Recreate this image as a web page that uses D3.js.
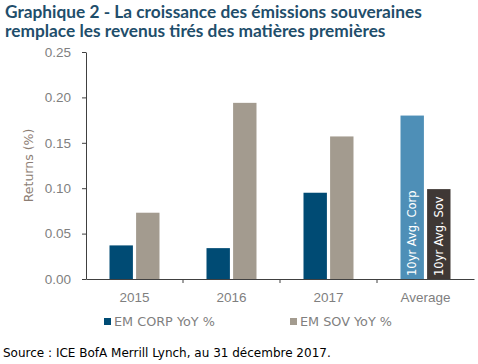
<!DOCTYPE html>
<html>
<head>
<meta charset="utf-8">
<script src="https://cdn.jsdelivr.net/npm/d3@7"></script>
<style>
  body { margin: 0; background: #fff; }
  svg { display: block; font-family: "DejaVu Sans", sans-serif; }
  .title { fill: #1f4e6b; font-family: Lato, sans-serif; font-weight: bold; font-size: 17.3px; }
  .axis text { fill: #7f7f7f; font-size: 13.5px; }
  .axis path, .axis line { stroke: #404040; }
  .axis-label { fill: #8c7d73; font-size: 12.5px; }
  .legend__item { fill: #7f7f7f; font-size: 12.8px; }
  .bar-label { fill: #fff; font-size: 11.5px; }
  .source { fill: #000; font-size: 12px; }
</style>
</head>
<body>
<svg class="chart"></svg>
<script>
const categories = ["2015", "2016", "2017", "Average"]
const corpValues = [0.037, 0.034, 0.095, 0.18]
const sovValues = [0.073, 0.194, 0.157, 0.099]
const yTicks = [0, 0.05, 0.10, 0.15, 0.20, 0.25]
const seriesNames = ["EM CORP YoY %", "EM SOV YoY %"]
const avgLabels = ["10yr Avg. Corp", "10yr Avg. Sov"]

var width = 478, height = 364
var margin = {top: 52, right: 4, bottom: 85, left: 86}

var colors = ["#004b74", "#a39b8f"]
var avgColors = ["#4e8fb7", "#3f3835"]

var svg = d3.select(".chart")
    .attr("width", width)
    .attr("height", height)

svg.append("text")
    .attr("class", "title")
    .attr("x", 5).attr("y", 18)
    .text("Graphique 2 - La croissance des émissions souveraines")

svg.append("text")
    .attr("class", "title")
    .attr("x", 5).attr("y", 37)
    .text("remplace les revenus tirés des matières premières")

var x = d3.scaleBand()
    .domain(categories)
    .range([margin.left, 474])

var y = d3.scaleLinear()
    .domain([0, 0.25])
    .range([279, margin.top])

var xInner = d3.scaleBand()
    .domain([0, 1])
    .range([x.bandwidth() / 2 - 25, x.bandwidth() / 2 + 25])
    .paddingInner(0.12)

svg.append("g")
    .attr("class", "axis")
    .attr("transform", "translate(" + margin.left + ",0)")
    .call(d3.axisLeft(y).tickValues(yTicks).tickFormat(d3.format(".2f")).tickSize(4).tickSizeOuter(0))
    .selectAll("text").attr("dx", "-0.6em")

svg.append("g")
    .attr("class", "axis")
    .attr("transform", "translate(0,279)")
    .call(d3.axisBottom(x).tickSize(0).tickSizeOuter(0))
    .call(g => g.selectAll("text").attr("dy", "1.45em"))

// ticks between categories
svg.append("g")
    .selectAll("line")
    .data(categories.slice(1))
    .enter().append("line")
    .attr("x1", d => x(d)).attr("x2", d => x(d))
    .attr("y1", 279).attr("y2", 283)
    .attr("stroke", "#404040")

svg.append("text")
    .attr("class", "axis-label")
    .attr("text-anchor", "middle")
    .attr("transform", "translate(33," + ((279 + margin.top) / 2) + ") rotate(-90)")
    .text("Returns (%)")

var groups = svg.selectAll("g.cat")
    .data(categories)
    .enter().append("g")
    .attr("class", "cat")
    .attr("transform", d => "translate(" + x(d) + ",0)")

groups.each(function(cat, i) {
    var g = d3.select(this)
    var vals = [corpValues[i], sovValues[i]]
    var isAvg = cat === "Average"
    vals.forEach((v, j) => {
        g.append("rect")
            .attr("x", xInner(j))
            .attr("y", y(v))
            .attr("width", xInner.bandwidth())
            .attr("height", y(0) - y(v))
            .attr("fill", isAvg ? avgColors[j] : colors[j])
        if (isAvg) {
            g.append("text")
                .attr("class", "bar-label")
                .attr("transform", "translate(" + (xInner(j) + xInner.bandwidth() / 2 + 4) + "," + (y(0) - 3) + ") rotate(-90)")
                .text(avgLabels[j])
        }
    })
})

var legend = svg.append("g").attr("class", "legend")
var legendX = [104, 290]
seriesNames.forEach((name, i) => {
    legend.append("rect")
        .attr("x", legendX[i]).attr("y", 318)
        .attr("width", 7).attr("height", 7)
        .attr("fill", colors[i])
    legend.append("text")
        .attr("class", "legend__item")
        .attr("x", legendX[i] + 10).attr("y", 326)
        .text(name)
})

svg.append("text")
    .attr("class", "source")
    .attr("x", 3).attr("y", 357)
    .text("Source : ICE BofA Merrill Lynch, au 31 décembre 2017.")
</script>
</body>
</html>
